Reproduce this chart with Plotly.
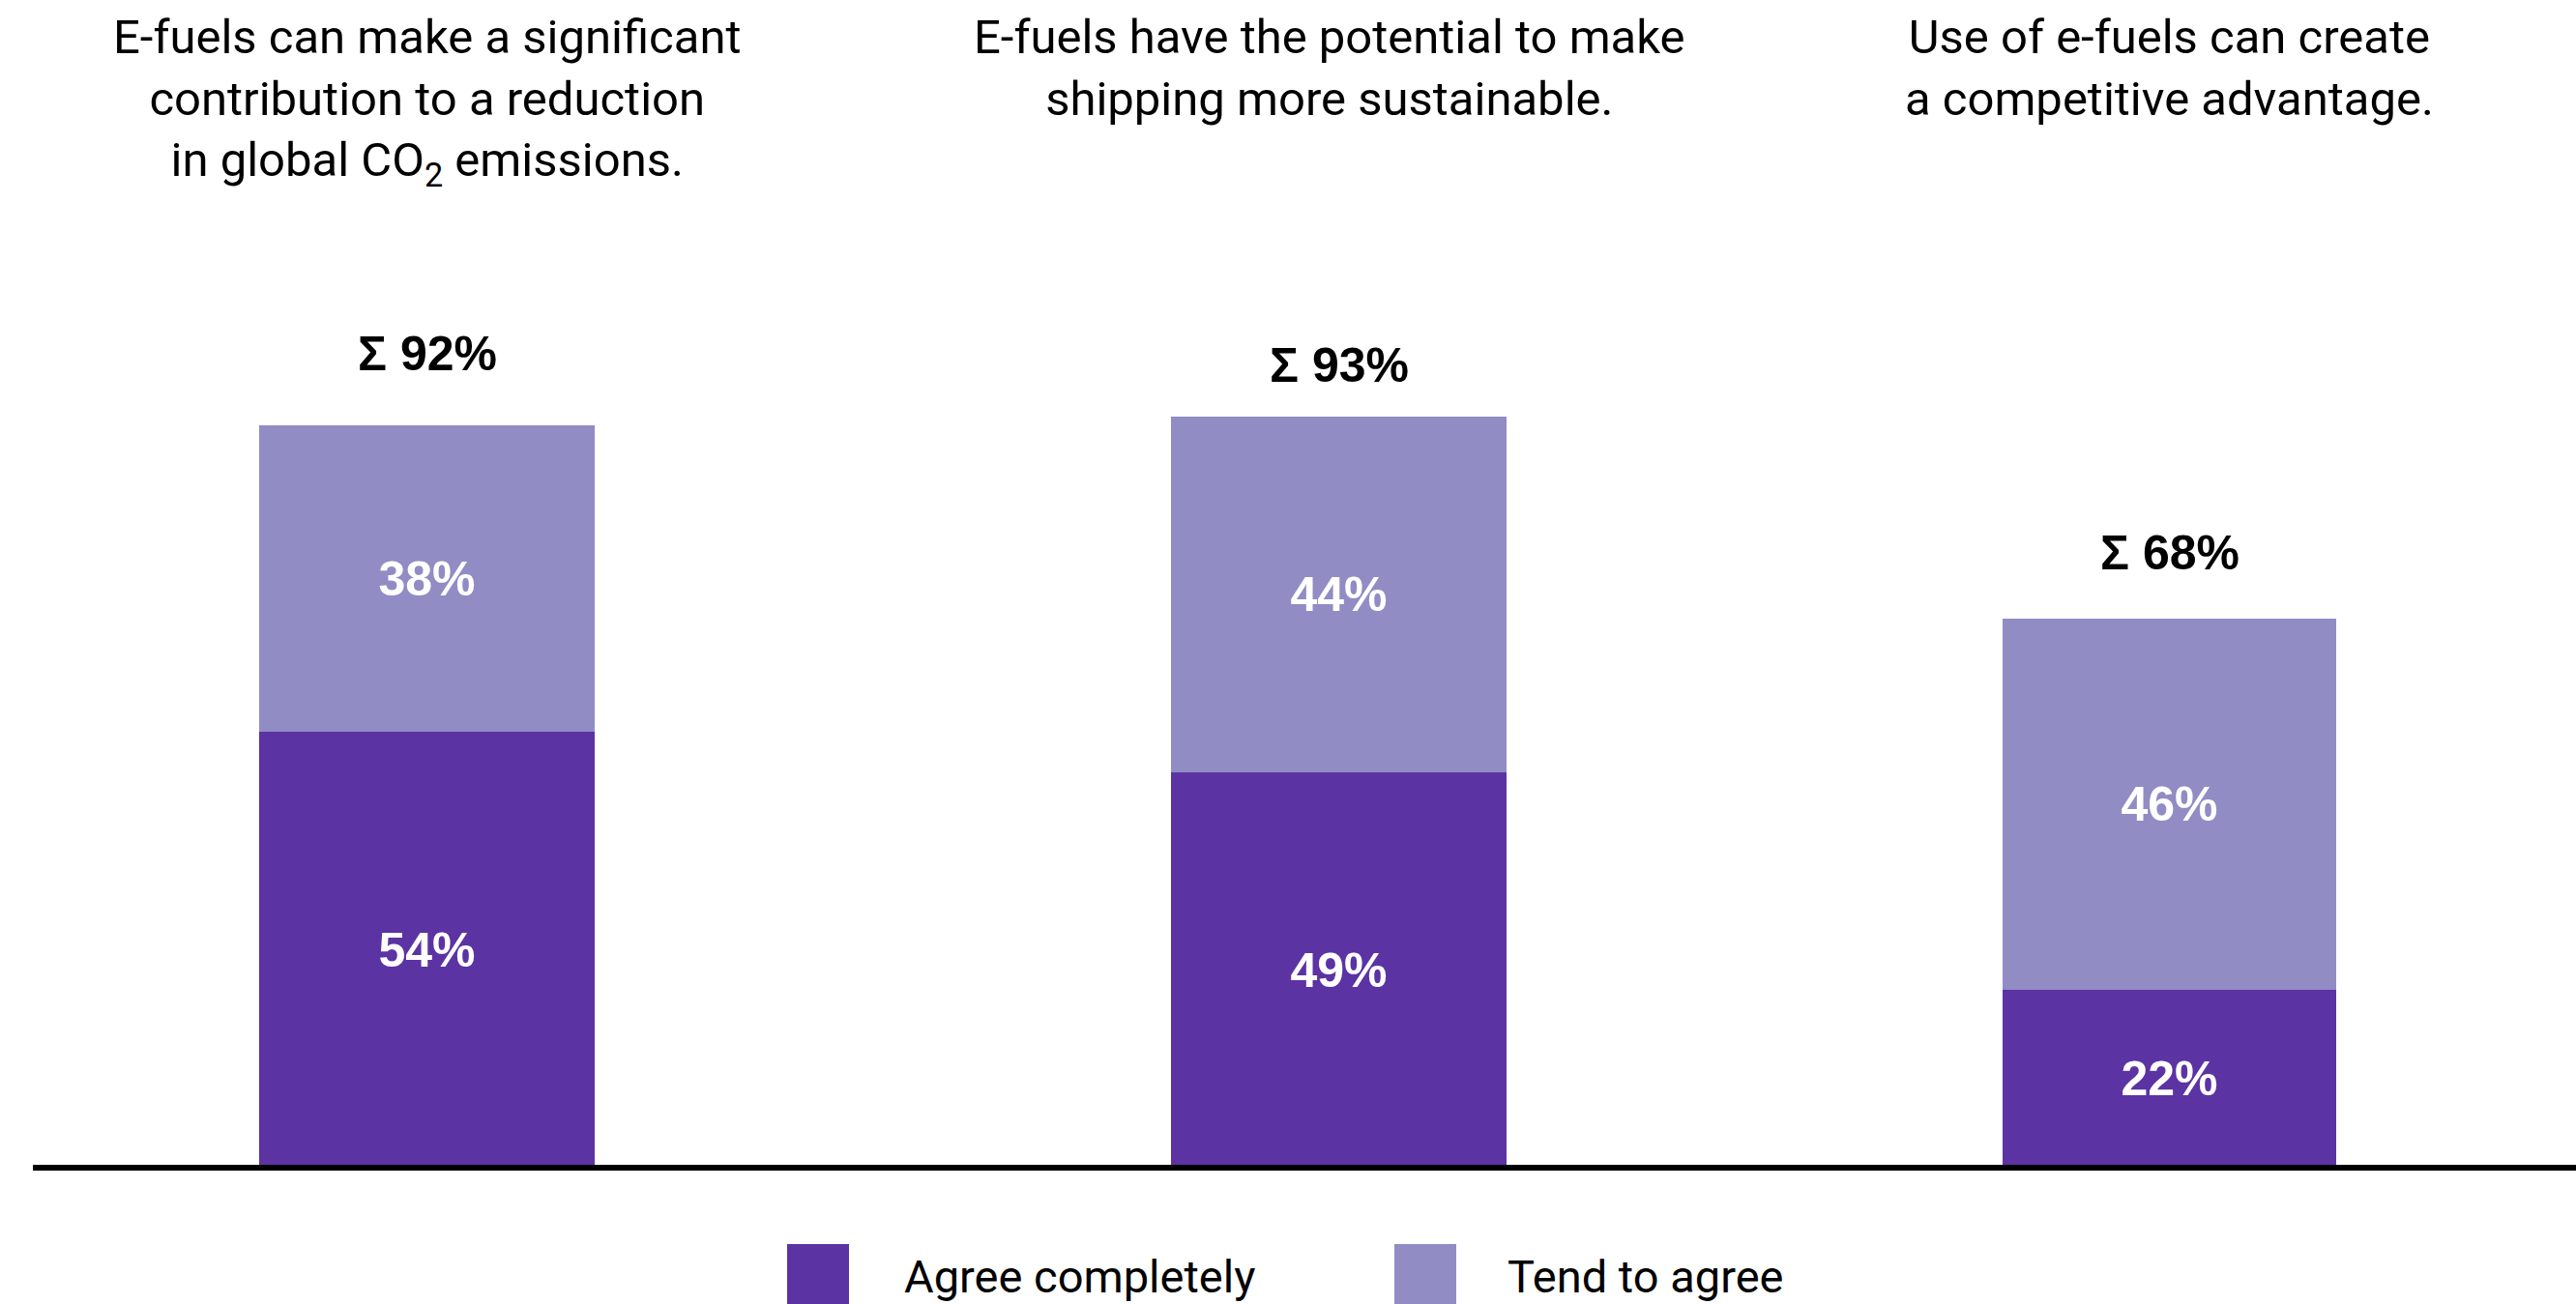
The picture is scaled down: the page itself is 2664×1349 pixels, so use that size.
import plotly.graph_objects as go

# Survey statements (one stacked bar each)
statements = [
    "E-fuels can make a significant<br>contribution to a reduction<br>in global CO<sub>2</sub> emissions.",
    "E-fuels have the potential to make<br>shipping more sustainable.",
    "Use of e-fuels can create<br>a competitive advantage.",
]
categories = ["Reduction of CO2", "Sustainable shipping", "Competitive advantage"]
series_names = ["Agree completely", "Tend to agree"]
agree_completely = [54, 49, 22]
tend_to_agree = [38, 44, 46]
totals = [92, 93, 68]

# Styling / layout constants
W, H = 2664, 1349
PLOT_BOTTOM = 1208  # pixel row of the baseline
COLORS = ["#5B33A3", "#918CC4"]
BAR_SPANS = [(268, 615), (1211, 1558), (2071, 2416)]  # pixel extents of each bar
SUM_SHIFT = [74, 53, 68]
TITLE_SHIFT = [0, -10, 0]
Y_TOP = PLOT_BOTTOM / 8.35

TITLE_FONT = dict(family="Roboto, Liberation Sans, sans-serif", size=49, color="#000000")
NUM_FONT = "Liberation Sans, Arial, sans-serif"

fig = go.Figure()
series_values = [agree_completely, tend_to_agree]

for i, cat in enumerate(categories):
    ax = "x" if i == 0 else f"x{i + 1}"
    for s, name in enumerate(series_names):
        v = series_values[s][i]
        fig.add_trace(go.Bar(
            x=[cat], y=[v], name=name, xaxis=ax, yaxis="y",
            marker=dict(color=COLORS[s], line=dict(width=0)),
            text=[f"{v}%"], textposition="inside", insidetextanchor="middle",
            textfont=dict(family=NUM_FONT, size=50, color="white", weight="bold"),
            showlegend=False, hoverinfo="skip",
        ))

layout_axes = {}
for i, (a, b) in enumerate(BAR_SPANS):
    key = "xaxis" if i == 0 else f"xaxis{i + 1}"
    layout_axes[key] = dict(
        domain=[a / W, b / W], anchor="y", range=[-0.5, 0.5], type="category",
        showgrid=False, zeroline=False, showticklabels=False, showline=False, fixedrange=True,
    )

fig.update_layout(
    width=W, height=H,
    margin=dict(l=0, r=0, t=0, b=H - PLOT_BOTTOM),
    paper_bgcolor="white", plot_bgcolor="white",
    barmode="stack", bargap=0,
    yaxis=dict(range=[0, Y_TOP], showgrid=False, zeroline=False,
               showticklabels=False, showline=False, fixedrange=True),
    **layout_axes,
)

plot_h = PLOT_BOTTOM

# Statement titles and totals
for i, text in enumerate(statements):
    ax = "x" if i == 0 else f"x{i + 1}"
    fig.add_annotation(
        text=text, xref=f"{ax} domain", x=0.5, yref="paper", y=1,
        xanchor="center", yanchor="top", yshift=-8, xshift=TITLE_SHIFT[i],
        showarrow=False, align="center", font=TITLE_FONT,
    )
    fig.add_annotation(
        text=f"Σ {totals[i]}%", xref=ax, x=categories[i], yref="y", y=totals[i],
        xanchor="center", yanchor="middle", yshift=SUM_SHIFT[i], showarrow=False,
        font=dict(family=NUM_FONT, size=50, color="#000000", weight="bold"),
    )

# Baseline
fig.add_shape(type="line", xref="paper", yref="paper", x0=34 / W, x1=1, y0=0, y1=0,
              line=dict(color="#000000", width=6), layer="above")

# Legend drawn as large swatches with labels
LEGEND_SWATCH_X = [814, 1442]
LEGEND_TEXT_X = [933, 1557]
SW_TOP, SW_SIZE = 1287, 64
for s, name in enumerate(series_names):
    x0 = LEGEND_SWATCH_X[s]
    fig.add_shape(type="rect", xref="paper", yref="paper",
                  x0=x0 / W, x1=(x0 + SW_SIZE) / W,
                  y0=(PLOT_BOTTOM - SW_TOP) / plot_h, y1=(PLOT_BOTTOM - SW_TOP - SW_SIZE) / plot_h,
                  fillcolor=COLORS[s], line=dict(width=0))
    fig.add_annotation(
        text=name, xref="paper", x=LEGEND_TEXT_X[s] / W, yref="paper",
        y=(PLOT_BOTTOM - 1320) / plot_h, xanchor="left", yanchor="middle",
        showarrow=False, font=dict(family="Roboto, Liberation Sans, sans-serif", size=47, color="#000000"),
    )

fig.write_html("out.html")
